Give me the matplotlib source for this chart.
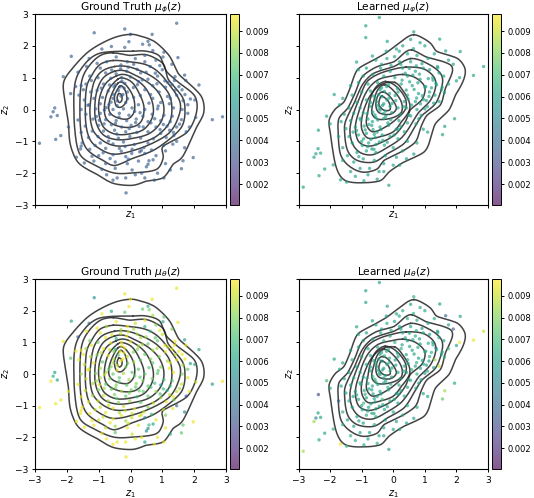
import numpy as np
import matplotlib
matplotlib.use("Agg")
import matplotlib.pyplot as plt
from matplotlib.colors import Normalize

# Points, left column = ground truth latent samples
gt_x = [-0.18, 1.45, -1.14, 0.68, 0.00, 0.55, 0.59, -0.05, 0.38, -0.60,
        -0.18, 0.70, 1.05, 1.49, -1.86, -0.90, -1.30, 1.02, -0.45, 0.45,
        0.80, -1.05, -0.75, -0.10, 0.15, 0.45, -1.65, -1.38, -0.95, -0.30,
        0.10, 0.62, 1.00, -2.11, -1.28, -0.78, -0.45, -0.12, 0.32, 0.85,
        1.40, 1.70, -1.02, -0.62, -0.28, 0.00, 0.55, 1.08, -1.55, -1.40,
        -0.85, -0.48, -0.18, 0.22, 0.70, 1.30, 2.15, 1.62, -1.88, -1.25,
        -1.62, -1.05, -0.70, -0.38, -0.10, 0.45, 0.90, 1.10, 1.45, 1.88,
        -1.45, -1.15, -0.88, -0.55, -0.30, 0.10, 0.70, 1.25, 1.65, 2.02,
        -1.30, -0.95, -0.68, -0.42, -0.15, 0.25, 0.58, 0.95, 1.22, 1.80,
        -2.38, -2.43, -1.55, -1.10, -0.82, -0.55, -0.22, 0.05, 0.45, 0.85,
        1.35, 1.62, -2.50, -2.30, -1.40, -0.95, -0.65, -0.35, -0.05, 0.30,
        0.68, 1.05, 1.80, 2.05, 2.89, 2.57, -1.65, -1.18, -0.78, -0.45,
        -0.12, 0.18, 0.55, 0.95, 1.25, 1.60, -1.42, -1.00, -0.60, -0.28,
        0.02, 0.40, 0.80, 1.15, 1.45, 1.85, -2.19, -1.55, -1.20, -0.85,
        -0.50, -0.15, 0.20, 0.55, 0.95, 1.35, 1.75, -2.35, -1.32, -1.02,
        -0.70, -0.38, -0.02, 0.32, 0.72, 1.12, 1.45, -2.86, -1.52, -0.95,
        -0.55, -0.22, 0.12, 0.55, 1.70, -1.28, -0.78, -0.35, 0.05, 0.42,
        1.10, -1.70, -1.00, -0.55, -0.15, 0.45, 0.80, 1.97, 1.65, -1.45,
        -1.15, -0.78, -0.48, -0.10, 0.25, 0.55, 1.25, 1.10, 1.60, -0.90,
        -0.48, 0.05, 0.50, 0.35, 0.85, 1.05, -0.55, -0.42, -0.15, 0.45,
        0.75, -0.14, -0.75, 0.15, -1.55, -1.95, -1.72, 0.92, 1.30, 0.25,
        -0.33, -0.24, -0.41, -0.53, -0.20, -0.61, -0.76, -0.09, -0.36, -0.47,
        0.31, 0.63, 0.87, 1.16, 1.41, 1.71, 0.13, 0.39, 0.76, 1.03,
        1.31, 1.54, -1.07, -0.83, -0.43, -0.04, 0.27, 0.64, 0.93, 1.23,
        -1.23, -1.48, -0.92, -0.66, -0.27, 0.09, 0.37, 0.83, 1.38, 1.52,
        -0.59, -0.31, -0.07, 0.21, 0.49, 0.78, 1.17, 1.74, -0.98, -1.34,
        -1.57, -1.11, -0.69, -0.17, 0.29, 0.66, 1.04, 1.33, 0.16, -0.52,
        -0.86, -0.29, 0.04, 0.34, 0.71, -1.21, -0.64, -0.07, 0.58, 1.36]
gt_y = [2.53, 2.71, 2.41, 2.36, 2.36, 2.14, 2.03, 2.13, 2.05, 1.98,
        1.95, 1.85, 1.80, 1.63, 1.67, 1.90, 1.60, 1.65, 1.65, 1.70,
        1.55, 1.45, 1.50, 1.50, 1.60, 1.50, 1.17, 1.35, 1.30, 1.40,
        1.42, 1.35, 1.25, 1.03, 1.05, 1.15, 1.12, 1.20, 1.15, 1.05,
        1.03, 1.08, 1.00, 0.98, 1.00, 1.02, 0.95, 0.90, 0.75, 0.80,
        0.80, 0.78, 0.82, 0.78, 0.75, 0.78, 0.77, 0.62, 0.50, 0.55,
        0.45, 0.60, 0.58, 0.60, 0.55, 0.62, 0.55, 0.70, 0.45, 0.33,
        0.30, 0.35, 0.38, 0.35, 0.42, 0.38, 0.35, 0.35, 0.28, 0.30,
        0.15, 0.18, 0.15, 0.12, 0.22, 0.15, 0.20, 0.22, 0.18, 0.15,
        0.05, -0.07, 0.00, 0.02, -0.02, 0.00, 0.02, 0.05, 0.00, 0.02,
        0.05, 0.00, -0.23, -0.19, -0.15, -0.12, -0.15, -0.12, -0.18, -0.10,
        -0.15, -0.18, -0.12, -0.25, -0.23, -0.32, -0.33, -0.30, -0.32, -0.35,
        -0.35, -0.30, -0.38, -0.35, -0.38, -0.32, -0.52, -0.50, -0.48, -0.55,
        -0.50, -0.55, -0.55, -0.52, -0.55, -0.55, -0.82, -0.72, -0.68, -0.68,
        -0.65, -0.70, -0.72, -0.70, -0.75, -0.72, -0.70, -0.94, -0.88, -0.85,
        -0.85, -0.90, -0.85, -0.90, -0.92, -0.88, -1.00, -1.06, -1.05, -1.05,
        -1.08, -1.02, -1.10, -1.05, -1.20, -1.25, -1.22, -1.22, -1.25, -1.20,
        -1.30, -1.50, -1.45, -1.42, -1.48, -1.38, -1.45, -1.51, -1.61, -1.68,
        -1.62, -1.70, -1.65, -1.70, -1.62, -1.72, -1.90, -1.70, -1.86, -1.88,
        -1.85, -1.90, -1.80, -2.00, -2.00, -2.15, -2.22, -2.15, -2.15, -2.15,
        -2.22, -2.62, -2.05, -2.05, -1.15, -0.55, 0.72, 1.38, 1.42, 0.88,
        0.71, 0.47, 0.27, 0.47, 0.67, 0.23, 0.06, 0.34, -0.24, -0.44,
        0.44, 0.47, 0.11, 0.41, 0.61, 0.47, -0.06, -0.21, -0.29, -0.47,
        -0.21, -0.46, -0.22, -0.45, -0.77, -0.60, -0.53, -0.42, -0.63, -0.65,
        0.91, 0.62, 0.67, 0.77, 0.89, 0.69, 0.93, 0.81, 0.91, 0.72,
        1.24, 1.28, 1.33, 1.26, 1.17, 1.14, 0.85, 0.91, -0.34, 0.13,
        -1.24, -1.13, -0.99, -1.16, -1.33, -1.27, -1.13, -1.09, -0.41, 0.71,
        -1.36, -1.31, -1.38, -1.29, -1.58, -1.47, -1.54, -1.56, -1.61, -0.82]
# colour values of the bottom left panel, in 1e-4
gt_mu0 = [95, 95, 55, 95, 95, 65, 80, 95, 75, 60,
          75, 85, 75, 95, 60, 95, 40, 60, 95, 95,
          80, 95, 85, 95, 90, 65, 35, 95, 95, 85,
          85, 70, 90, 95, 80, 95, 65, 95, 85, 75,
          95, 60, 80, 95, 95, 95, 75, 95, 95, 85,
          95, 65, 95, 80, 85, 95, 60, 95, 75, 85,
          95, 80, 95, 75, 90, 75, 80, 95, 95, 60,
          90, 95, 75, 85, 95, 85, 75, 95, 85, 60,
          90, 85, 75, 95, 80, 75, 75, 80, 95, 75,
          60, 65, 85, 80, 90, 75, 85, 75, 75, 75,
          95, 80, 95, 60, 90, 85, 80, 75, 85, 75,
          80, 70, 95, 90, 95, 55, 95, 85, 75, 80,
          75, 80, 75, 60, 70, 90, 90, 80, 75, 85,
          80, 75, 85, 65, 90, 95, 95, 95, 85, 90,
          80, 75, 70, 75, 85, 95, 30, 95, 95, 90,
          85, 80, 85, 75, 90, 95, 40, 95, 95, 90,
          95, 90, 95, 80, 50, 95, 95, 85, 90, 90,
          80, 95, 90, 95, 85, 50, 95, 95, 75, 95,
          95, 90, 85, 95, 95, 50, 65, 95, 75, 95,
          75, 90, 50, 95, 95, 95, 95, 95, 95, 60,
          95, 95, 95, 95, 95, 95, 95, 95, 80, 85,
          95, 95, 90, 85, 95, 80, 85, 75, 75, 80,
          75, 80, 75, 85, 90, 95, 75, 80, 70, 70,
          75, 85, 85, 85, 75, 80, 75, 70, 70, 90,
          95, 95, 90, 90, 95, 80, 85, 85, 95, 95,
          95, 90, 90, 85, 85, 75, 90, 95, 95, 95,
          95, 90, 90, 90, 95, 70, 90, 95, 75, 80,
          90, 95, 90, 90, 60, 95, 95, 90, 70, 80]
gt_mu_phi = 36  # top left panel is one flat colour

# Right column = learned latent samples
learned_x = [-0.44, -0.87, -0.87, -0.19, 0.65, 1.47, 1.66, 2.12, -1.16, 2.86,
             2.54, 2.10, -1.87, -2.11, -2.37, -2.38, -2.30, -2.45, -2.51, -2.17,
             -2.35, -2.85, -1.67, -0.14, 1.94, 1.63, 1.56, 1.09, -1.90, -1.48,
             -0.93, -0.51, 0.55, 0.85, 0.30, 1.00, 1.30, 1.90, 1.75, 0.10,
             0.45, 0.75, 1.10, 1.40, -0.20, -0.55, 0.20, 0.55, 0.95, 1.60,
             -1.10, -0.85, -0.40, -0.10, 0.30, 0.70, 1.15, 1.45, 2.00, 1.75,
             -0.95, -0.65, -0.30, 0.05, 0.45, 0.85, 1.25, 1.35, 1.55, -1.35,
             -1.10, -0.80, -0.50, -0.15, 0.25, 0.60, 1.00, 1.32, -1.60, -1.30,
             -1.00, -0.72, -0.42, -0.12, 0.15, 0.45, 0.80, 1.15, 1.45, -1.15,
             -0.85, -0.55, -0.35, -0.20, 0.08, 0.35, 0.70, 1.05, 1.28, -1.70,
             -1.40, -1.05, -0.72, -0.48, -0.30, -0.10, 0.15, 0.42, 0.75, 1.00,
             -1.55, -1.25, -0.95, -0.65, -0.42, -0.25, -0.05, 0.22, 0.55, 0.88,
             -1.65, -1.35, -1.05, -0.80, -0.55, -0.30, -0.08, 0.18, 0.45, 0.72,
             -1.73, -1.50, -1.20, -0.92, -0.68, -0.42, -0.15, 0.10, 0.35, 0.95,
             -1.40, -1.10, -0.85, -0.60, -0.35, -0.10, 0.15, 0.45, 0.75, -1.60,
             -1.30, -1.00, -0.78, -0.55, -0.28, 0.00, 0.30, 0.65, -1.45, -1.15,
             -0.85, -0.55, -0.25, 0.10, 0.42, -1.25, -0.95, -0.60, -0.30, 0.00,
             -1.05, -0.75, -0.45, -1.35, -0.80, -1.60, -2.00, -1.20, -0.30, 0.20,
             -0.37, -0.46, -0.28, -0.53, -0.62, -0.34, -0.21, -0.44, -0.72, -0.13,
             -0.31, -0.58, -0.24, -0.49, -0.66, -0.04, 0.06, -0.17, -0.83, -0.39,
             -0.77, -1.03, -0.89, -1.16, -0.64, -0.51, -0.94, -0.71, -0.33, -0.57,
             -1.27, -0.98, -0.81, -0.68, -0.44, -0.19, 0.03, 0.24, -0.61, -1.09,
             0.28, 0.52, 0.78, 1.03, 1.21, 0.41, 0.66, 0.92, 1.13, 0.33,
             0.58, 0.86, 1.08, 1.37, 0.47, 0.74, 0.96, 1.26, 0.13, 0.38,
             0.62, 0.83, 1.11, 0.24, 0.51, 0.73, 0.91, 1.41, 1.62, 1.53,
             0.04, 0.19, 0.64, -0.37, -0.66, -0.22, -0.07, 0.49, 0.17, 0.81]
learned_y = [2.89, 2.63, 2.26, 2.14, 2.44, 2.21, 1.84, 1.82, 1.49, 1.35,
             1.07, 1.00, 0.47, -0.21, -0.65, -1.23, -1.37, -1.39, -1.50, -1.87,
             -2.08, -2.44, -2.21, -2.38, -0.29, -0.53, -0.79, -0.71, -1.74, -2.28,
             -2.24, -2.19, 2.20, 2.10, 2.00, 2.00, 1.75, 1.42, 1.55, 1.90,
             1.75, 1.70, 1.60, 1.35, 1.60, 1.55, 1.50, 1.50, 1.30, 1.05,
             1.25, 1.30, 1.30, 1.20, 1.30, 1.20, 1.25, 1.15, 0.90, 0.80,
             1.05, 1.10, 1.05, 1.00, 1.05, 0.95, 1.00, 0.82, 0.70, 0.75,
             0.85, 0.80, 0.85, 0.78, 0.80, 0.75, 0.70, 0.45, 0.35, 0.45,
             0.55, 0.58, 0.62, 0.50, 0.55, 0.45, 0.50, 0.55, 0.25, 0.22,
             0.30, 0.35, 0.40, 0.30, 0.28, 0.25, 0.25, 0.28, 0.20, 0.15,
             0.05, 0.05, 0.10, 0.12, 0.18, 0.10, 0.05, 0.05, 0.00, 0.02,
             -0.15, -0.12, -0.10, -0.08, -0.02, -0.05, -0.10, -0.15, -0.20, -0.18,
             -0.38, -0.35, -0.28, -0.30, -0.25, -0.28, -0.32, -0.35, -0.42, -0.45,
             -0.85, -0.60, -0.55, -0.52, -0.50, -0.55, -0.50, -0.62, -0.70, -0.62,
             -0.85, -0.80, -0.75, -0.78, -0.80, -0.85, -0.92, -1.00, -1.05, -1.20,
             -1.05, -1.00, -1.05, -1.10, -1.12, -1.20, -1.30, -1.40, -1.45, -1.35,
             -1.30, -1.35, -1.45, -1.50, -1.55, -1.65, -1.55, -1.60, -1.70, -1.75,
             -1.85, -1.85, -1.95, -1.95, -2.05, -1.60, -0.45, -2.10, -1.95, -1.75,
             0.68, 0.47, 0.57, 0.24, 0.42, 0.13, 0.72, 0.03, 0.22, 0.36,
             -0.13, -0.17, -0.22, -0.33, -0.38, 0.19, 0.44, -0.42, -0.13, -0.63,
             -0.47, -0.33, -0.64, -0.66, -0.63, -0.71, -0.92, -0.94, -0.97, -0.88,
             -0.71, -1.13, -1.17, -1.24, -1.02, -1.03, -0.80, -0.53, -1.25, -1.48,
             0.92, 0.87, 0.84, 0.72, 0.68, 0.61, 0.63, 0.43, 0.41, 0.09,
             0.14, 0.18, 0.09, 0.77, 0.33, 0.36, 0.31, 0.92, 0.66, 1.14,
             1.08, 1.11, 0.97, 1.42, 1.29, 1.37, 1.44, 1.31, 0.53, 0.62,
             1.66, 1.83, 1.91, 1.42, 1.68, 1.83, 1.38, -0.18, -0.63, -0.29]
learned_mu_theta = [60, 60, 60, 60, 65, 60, 40, 60, 60, 90,
                    95, 95, 60, 70, 30, 60, 60, 50, 85, 60,
                    60, 85, 95, 60, 60, 85, 75, 60, 65, 70,
                    60, 65, 60, 60, 65, 60, 65, 35, 60, 60,
                    65, 60, 60, 60, 65, 60, 60, 60, 65, 60,
                    65, 60, 65, 60, 60, 65, 60, 60, 60, 70,
                    60, 60, 65, 65, 60, 60, 60, 40, 65, 60,
                    60, 60, 60, 60, 65, 60, 65, 85, 60, 65,
                    60, 60, 60, 65, 60, 60, 60, 65, 90, 60,
                    60, 65, 60, 65, 60, 60, 60, 60, 60, 65,
                    60, 60, 60, 60, 60, 65, 60, 60, 65, 60,
                    60, 65, 60, 65, 60, 60, 60, 60, 65, 60,
                    60, 60, 60, 60, 65, 60, 60, 65, 60, 60,
                    35, 60, 60, 65, 60, 60, 65, 60, 60, 60,
                    60, 60, 60, 60, 70, 60, 60, 65, 60, 65,
                    60, 60, 60, 60, 60, 60, 65, 60, 60, 60,
                    65, 60, 60, 60, 60, 60, 60, 65, 60, 60,
                    60, 60, 60, 65, 60, 65, 60, 65, 60, 65,
                    60, 60, 65, 60, 60, 60, 65, 60, 60, 60,
                    60, 65, 60, 60, 60, 60, 60, 65, 60, 60,
                    60, 60, 65, 60, 60, 60, 70, 60, 60, 60,
                    60, 60, 60, 65, 60, 60, 65, 60, 60, 60,
                    60, 60, 65, 60, 65, 60, 60, 60, 60, 60,
                    65, 60, 60, 60, 60, 65, 60, 60, 60, 60,
                    60, 60, 65, 60, 60, 65, 60, 60, 65, 60,
                    60, 60, 65, 60, 60, 60, 65, 60, 60, 60]
learned_mu_phi = 60  # top right panel is one flat colour

# Density contours of the ground truth samples, outer to inner
gt_contours = [
    [(0.00, 2.36), (-0.45, 2.28), (-0.96, 2.05), (-1.40, 1.75), (-1.85, 1.26), (-2.09, 0.89), (-2.09, 0.47),
     (-1.95, -0.42), (-1.90, -1.05), (-1.64, -1.67), (-1.05, -2.04), (-0.54, -2.32), (0.08, -2.38), (0.50, -2.25),
     (1.03, -2.14), (1.34, -1.72), (1.65, -1.46), (2.07, -0.57), (2.30, -0.10), (2.22, 0.42), (1.75, 0.89),
     (1.49, 1.15), (1.23, 1.67), (0.76, 2.13), (0.29, 2.31)],
    [(0.08, 1.83), (-0.96, 1.77), (-1.49, 1.36), (-1.74, 0.84), (-1.78, 0.10), (-1.74, -0.73), (-1.59, -1.41),
     (-1.17, -1.72), (-0.54, -1.99), (0.08, -1.99), (0.82, -1.88), (1.03, -1.47), (1.03, -1.15), (1.76, -0.73),
     (2.07, -0.10), (2.02, 0.42), (1.60, 0.78), (1.13, 1.20), (0.92, 1.67), (0.50, 1.83)],
    [(-0.54, 1.78), (-0.96, 1.69), (-1.33, 1.33), (-1.54, 0.86), (-1.59, 0.02), (-1.54, -0.82), (-1.33, -1.29),
     (-0.86, -1.60), (-0.49, -1.76), (0.03, -1.55), (0.60, -1.34), (1.03, -1.08), (1.60, -0.56), (1.71, 0.02),
     (1.60, 0.44), (1.18, 0.96), (1.03, 1.43), (0.50, 1.72), (-0.02, 1.70)],
    [(-0.54, 1.54), (-0.95, 1.42), (-1.20, 1.10), (-1.38, 0.70), (-1.42, 0.00), (-1.38, -0.60), (-1.20, -1.05),
     (-0.75, -1.35), (-0.40, -1.40), (0.05, -1.30), (0.60, -1.10), (1.20, -0.75), (1.50, -0.25), (1.55, 0.25),
     (1.20, 0.80), (0.85, 1.20), (0.45, 1.42), (-0.05, 1.50)],
    [(-0.50, 1.35), (-0.90, 1.20), (-1.15, 0.85), (-1.25, 0.30), (-1.27, -0.20), (-1.15, -0.70), (-0.75, -1.05),
     (-0.30, -1.15), (0.30, -1.05), (0.80, -0.85), (1.20, -0.45), (1.30, 0.00), (1.20, 0.50), (0.80, 0.95),
     (0.35, 1.20), (-0.10, 1.35)],
    [(-0.50, 1.20), (-0.85, 1.00), (-1.05, 0.60), (-1.12, 0.10), (-1.08, -0.40), (-0.85, -0.80), (-0.40, -0.95),
     (0.10, -0.90), (0.60, -0.75), (0.95, -0.40), (1.05, 0.05), (0.90, 0.50), (0.55, 0.85), (0.10, 1.10),
     (-0.20, 1.22)],
    [(-0.45, 1.05), (-0.75, 0.85), (-0.95, 0.45), (-1.00, -0.05), (-0.85, -0.55), (-0.45, -0.78), (0.05, -0.75),
     (0.45, -0.60), (0.70, -0.20), (0.68, 0.25), (0.45, 0.70), (0.10, 0.98), (-0.20, 1.10)],
    [(-0.40, 0.95), (-0.70, 0.60), (-0.82, 0.10), (-0.75, -0.30), (-0.40, -0.52), (0.05, -0.55), (0.35, -0.35),
     (0.42, 0.10), (0.25, 0.55), (0.05, 0.85), (-0.20, 0.98)],
    [(-0.40, 0.82), (-0.62, 0.40), (-0.68, 0.00), (-0.50, -0.22), (-0.10, -0.30), (0.12, -0.05), (0.10, 0.35),
     (-0.05, 0.65), (-0.22, 0.83)],
    [(-0.35, 0.72), (-0.50, 0.42), (-0.45, 0.12), (-0.28, 0.08), (-0.12, 0.28), (-0.15, 0.55), (-0.25, 0.72)],
    [(-0.37, 0.50), (-0.42, 0.35), (-0.35, 0.22), (-0.27, 0.30), (-0.28, 0.45)],
]

# Density contours of the learned samples, outer to inner
learned_contours = [
    [(0.65, 2.35), (1.18, 2.08), (1.39, 1.82), (2.02, 1.61), (2.28, 1.24), (2.18, 0.82), (1.97, 0.45), (1.76, -0.02),
     (1.34, -0.44), (1.18, -0.92), (0.97, -1.34), (0.34, -1.65), (-0.14, -1.97), (-0.40, -2.23), (-0.93, -2.30),
     (-1.45, -2.26), (-1.72, -2.02), (-1.87, -1.55), (-1.98, -0.81), (-2.03, -0.34), (-1.82, 0.03), (-1.56, 0.24),
     (-1.35, 0.72), (-1.14, 1.24), (-0.72, 1.50), (-0.24, 1.77), (0.18, 2.08)],
    [(0.60, 1.87), (1.02, 1.66), (1.39, 1.56), (1.81, 1.40), (1.86, 1.14), (1.65, 0.66), (1.49, 0.14), (1.07, -0.18),
     (0.86, -0.60), (0.70, -1.02), (0.23, -1.34), (-0.29, -1.60), (-0.50, -1.86), (-0.93, -1.97), (-1.35, -1.81),
     (-1.66, -1.44), (-1.74, -0.81), (-1.72, -0.28), (-1.45, 0.03), (-1.19, 0.56), (-0.98, 1.03), (-0.50, 1.35),
     (0.02, 1.50), (0.34, 1.77)],
    [(0.55, 1.60), (1.07, 1.45), (1.49, 1.14), (1.55, 0.77), (1.34, 0.19), (0.92, -0.18), (0.65, -0.60), (0.34, -1.07),
     (-0.19, -1.39), (-0.61, -1.65), (-1.14, -1.60), (-1.45, -1.28), (-1.54, -0.70), (-1.50, -0.34), (-1.22, 0.24),
     (-0.98, 0.77), (-0.61, 1.14), (0.02, 1.35)],
    [(0.40, 1.33), (0.95, 1.28), (1.30, 1.00), (1.33, 0.65), (1.15, 0.25), (0.80, -0.10), (0.55, -0.50), (0.25, -0.90),
     (-0.20, -1.20), (-0.65, -1.42), (-1.05, -1.35), (-1.30, -1.05), (-1.37, -0.60), (-1.25, -0.10), (-1.05, 0.40),
     (-0.85, 0.85), (-0.50, 1.10), (-0.05, 1.25)],
    [(0.30, 1.10), (0.70, 1.00), (1.00, 0.70), (0.90, 0.30), (0.55, 0.00), (0.40, -0.35), (0.10, -0.75), (-0.30, -1.00),
     (-0.75, -1.15), (-1.10, -1.00), (-1.20, -0.55), (-1.10, -0.10), (-0.95, 0.35), (-0.75, 0.70), (-0.45, 0.95),
     (-0.05, 1.05)],
    [(0.05, 0.85), (0.30, 0.60), (0.50, 0.25), (0.50, -0.05), (0.25, -0.40), (0.00, -0.70), (-0.40, -0.85),
     (-0.80, -0.90), (-1.00, -0.60), (-0.98, -0.20), (-0.85, 0.20), (-0.65, 0.55), (-0.35, 0.80)],
    [(-0.25, 0.88), (0.10, 0.72), (0.38, 0.35), (0.38, 0.00), (0.10, -0.30), (-0.25, -0.55), (-0.65, -0.70),
     (-0.85, -0.45), (-0.80, -0.05), (-0.72, 0.35), (-0.55, 0.70)],
    [(-0.28, 0.78), (0.00, 0.60), (0.25, 0.25), (0.25, -0.10), (-0.10, -0.28), (-0.50, -0.30), (-0.68, -0.10),
     (-0.62, 0.25), (-0.50, 0.60)],
    [(-0.32, 0.55), (-0.10, 0.40), (0.10, 0.05), (-0.10, -0.15), (-0.45, -0.10), (-0.55, 0.15), (-0.48, 0.45)],
    [(-0.35, 0.42), (-0.15, 0.25), (-0.10, 0.00), (-0.30, -0.02), (-0.45, 0.15), (-0.42, 0.35)],
]

ticks = [-3, -2, -1, 0, 1, 2, 3]
cbar_ticks = [0.002, 0.003, 0.004, 0.005, 0.006, 0.007, 0.008, 0.009]
norm = Normalize(vmin=0.00104, vmax=0.00978)

W, H = 534, 498
plt.rcParams['font.size'] = 6.6


def round_closed(points, passes=3):
    # 4 point subdivision, goes through the typed vertices and rounds the corners
    pts = np.array(points, dtype=float)
    for _ in range(passes):
        mid = (9 * (pts + np.roll(pts, -1, axis=0)) - np.roll(pts, 1, axis=0) - np.roll(pts, -2, axis=0)) / 16
        new = np.empty((2 * len(pts), 2))
        new[0::2], new[1::2] = pts, mid
        pts = new
    return np.vstack([pts, pts[:1]])


def panel(x0, x1, y0, y1, cx0, title, xs, ys, values, contours, xticklabels, yticklabels):
    ax = fig.add_axes([x0 / W, 1 - y1 / H, (x1 - x0) / W, (y1 - y0) / H])
    for c in contours:
        line = round_closed(c)
        ax.plot(line[:, 0], line[:, 1], color='#222222', lw=1.1, alpha=0.85, zorder=2)
    sc = ax.scatter(xs, ys, c=values, cmap='viridis', norm=norm, s=6, alpha=0.65, linewidths=0, zorder=3)
    ax.set_xlim(-3, 3)
    ax.set_ylim(-3, 3)
    ax.set_xticks(ticks)
    ax.set_yticks(ticks)
    ax.tick_params(length=2.5, width=0.7, pad=2.5, labelsize=6.6,
                   labelbottom=xticklabels, labelleft=yticklabels)
    ax.set_title(title, fontsize=7.7, pad=2.5)
    ax.set_xlabel('$z_1$', fontsize=7, labelpad=2 if xticklabels else 0.5)
    ax.set_ylabel('$z_2$', fontsize=7, labelpad=1.5 if yticklabels else -1)
    cax = fig.add_axes([cx0 / W, 1 - y1 / H, 9 / W, (y1 - y0) / H])
    cb = fig.colorbar(sc, cax=cax)
    cb.set_ticks(cbar_ticks)
    cb.ax.tick_params(length=2.5, width=0.7, pad=2, labelsize=6.0)
    cb.outline.set_linewidth(0.7)
    return ax


fig = plt.figure(figsize=(W / 100, H / 100), dpi=100)

n_gt = len(gt_x)
n_learned = len(learned_x)
panel(35, 226, 14, 205, 230, r'Ground Truth $\mu_\phi(z)$', gt_x, gt_y,
      np.full(n_gt, gt_mu_phi * 1e-4), gt_contours, False, True)
panel(298.5, 488, 14, 205, 492, r'Learned $\mu_\varphi(z)$', learned_x, learned_y,
      np.full(n_learned, learned_mu_phi * 1e-4), learned_contours, False, False)
panel(35, 226, 279, 469, 230, r'Ground Truth $\mu_\theta(z)$', gt_x, gt_y,
      np.array(gt_mu0) * 1e-4, gt_contours, True, True)
panel(298.5, 488, 279, 469, 492, r'Learned $\mu_\theta(z)$', learned_x, learned_y,
      np.array(learned_mu_theta) * 1e-4, learned_contours, True, False)

fig.savefig('out.png', dpi=100)
